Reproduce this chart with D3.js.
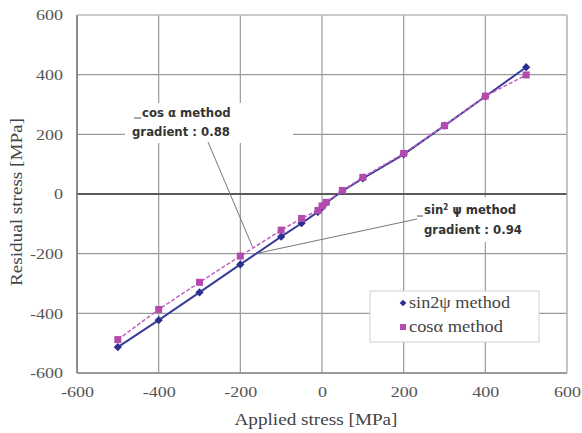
<!DOCTYPE html>
<html>
<head>
<meta charset="utf-8">
<script src="https://cdn.jsdelivr.net/npm/d3@7"></script>
<style>
  body { margin: 0; background: #fff; }
  svg { display: block; }
</style>
</head>
<body>
<svg id="viz" width="582" height="433"></svg>
<script>
window.onload = main;

// values
var appliedStress = [-500, -400, -300, -200, -100, -50, -10, 0, 10, 50, 100, 200, 300, 400, 500];
var sinPsiValues = [-513, -423, -330, -236, -143, -98, -60, -45, -30, 10, 52, 133, 229, 327, 425];
var cosAlphaValues = [-488, -387, -296, -208, -121, -82, -55, -40, -28, 12, 56, 136, 229, 328, 399];
var tickValues = [-600, -400, -200, 0, 200, 400, 600];
var seriesNames = ["sin2\u03c8 method", "cos\u03b1 method"];

var margins = {top: 15, right: 15, bottom: 60, left: 77};
var serif = "'Liberation Serif', 'Times New Roman', serif";
var narrow = "'Liberation Sans Narrow', 'DejaVu Sans Condensed', 'Liberation Sans', sans-serif";

// the original text is a bit wider than Times, so stretch it sideways
function stretch(sel, k){
  sel.each(function(){
    var w = this.getComputedTextLength();
    d3.select(this).attr("textLength", w * k).attr("lengthAdjust", "spacingAndGlyphs");
  });
}

function main(){
  var svg = d3.select("#viz"),
      width = +svg.attr("width"),
      height = +svg.attr("height");

  var xScale = d3.scaleLinear().domain([-600, 600]).range([margins.left, width - margins.right]);
  var yScale = d3.scaleLinear().domain([-600, 600]).range([height - margins.bottom, margins.top]);

  // gridlines
  var grid = svg.append("g");
  tickValues.forEach(function(t){
    grid.append("line")
      .attr("x1", xScale(t)).attr("x2", xScale(t))
      .attr("y1", yScale(600)).attr("y2", yScale(-600))
      .style("stroke", "#9a9a9a").style("stroke-width", "1.2px");
    grid.append("line")
      .attr("x1", xScale(-600)).attr("x2", xScale(600))
      .attr("y1", yScale(t)).attr("y2", yScale(t))
      .style("stroke", "#9a9a9a").style("stroke-width", "1.2px");
  });
  // zero line
  svg.append("line")
    .attr("x1", xScale(-600)).attr("x2", xScale(600))
    .attr("y1", yScale(0)).attr("y2", yScale(0))
    .style("stroke", "#5a5a5a").style("stroke-width", "2.2px");

  // axes (ticks only as labels)
  var xAxis = svg.append("g")
    .attr("transform", "translate(0," + (yScale(-600) + 5) + ")")
    .call(d3.axisBottom(xScale).tickValues(tickValues).tickSize(0).tickPadding(8).tickFormat(d3.format("d")));
  var yAxis = svg.append("g")
    .attr("transform", "translate(" + (xScale(-600) - 14) + ",0)")
    .call(d3.axisLeft(yScale).tickValues(tickValues).tickSize(0).tickPadding(0).tickFormat(d3.format("d")));
  [xAxis, yAxis].forEach(function(a){
    a.select(".domain").remove();
    a.selectAll("text")
      .style("font-family", serif).style("font-size", "15px").style("fill", "#555")
      .text(function(d){ return String(d); });
    stretch(a.selectAll("text"), 1.2);
  });

  // plot frame
  svg.append("line")
    .attr("x1", xScale(-600)).attr("x2", xScale(-600))
    .attr("y1", yScale(600)).attr("y2", yScale(-600))
    .style("stroke", "#7a7a7a").style("stroke-width", "1.5px");
  svg.append("line")
    .attr("x1", xScale(-600)).attr("x2", xScale(600))
    .attr("y1", yScale(-600)).attr("y2", yScale(-600))
    .style("stroke", "#8a8a8a").style("stroke-width", "1.5px");
  svg.append("line")
    .attr("x1", xScale(-600)).attr("x2", xScale(600))
    .attr("y1", yScale(600)).attr("y2", yScale(600))
    .style("stroke", "#c8c8c8").style("stroke-width", "1px");
  svg.append("line")
    .attr("x1", xScale(600)).attr("x2", xScale(600))
    .attr("y1", yScale(600)).attr("y2", yScale(-600))
    .style("stroke", "#c8c8c8").style("stroke-width", "1px");

  // axis titles
  svg.append("text")
    .attr("x", 316).attr("y", 425)
    .attr("text-anchor", "middle")
    .attr("textLength", 163).attr("lengthAdjust", "spacingAndGlyphs")
    .style("font-family", serif).style("font-size", "16px").style("fill", "#444")
    .text("Applied stress [MPa]");
  svg.append("text")
    .attr("transform", "translate(22,202) rotate(-90)")
    .attr("text-anchor", "middle")
    .attr("textLength", 168).attr("lengthAdjust", "spacingAndGlyphs")
    .style("font-family", serif).style("font-size", "16px").style("fill", "#444")
    .text("Residual stress [MPa]");

  // annotation boxes (cover gridlines)
  svg.append("rect").attr("x", 125).attr("y", 103).attr("width", 168).attr("height", 40).style("fill", "#fff");
  svg.append("rect").attr("x", 412).attr("y", 197).attr("width", 118).attr("height", 45).style("fill", "#fff");

  // leader lines
  svg.append("line")
    .attr("x1", 208).attr("y1", 142).attr("x2", 253).attr("y2", 248)
    .style("stroke", "#777").style("stroke-width", "1px");
  svg.append("line")
    .attr("x1", 417).attr("y1", 219).attr("x2", 254).attr("y2", 254)
    .style("stroke", "#777").style("stroke-width", "1px");
  svg.append("line")
    .attr("x1", 134).attr("y1", 118).attr("x2", 141).attr("y2", 118)
    .style("stroke", "#555").style("stroke-width", "1px");
  svg.append("line")
    .attr("x1", 417).attr("y1", 216).attr("x2", 423).attr("y2", 216)
    .style("stroke", "#555").style("stroke-width", "1px");

  var ann = svg.append("g")
    .style("font-family", narrow).style("font-weight", "bold").style("font-size", "13px").style("fill", "#333");
  ann.append("text").attr("x", 142).attr("y", 117).text("cos \u03b1 method");
  ann.append("text").attr("x", 132).attr("y", 136).text("gradient : 0.88");
  var s = ann.append("text").attr("x", 424).attr("y", 214);
  s.append("tspan").text("sin");
  s.append("tspan").attr("baseline-shift", "super").style("font-size", "8px").text("2");
  s.append("tspan").text(" \u03c8 method");
  ann.append("text").attr("x", 424).attr("y", 234).text("gradient : 0.94");

  // series
  var sinData = appliedStress.map(function(x, i){ return {x: x, y: sinPsiValues[i]}; });
  var cosData = appliedStress.map(function(x, i){ return {x: x, y: cosAlphaValues[i]}; });
  var line = d3.line()
    .x(function(d){ return xScale(d.x); })
    .y(function(d){ return yScale(d.y); });

  var blue = "#2b2f8f";
  var magenta = "#b44aae";

  svg.append("path").datum(sinData)
    .attr("d", line)
    .style("fill", "none").style("stroke", "#3a3d98").style("stroke-width", "2px");
  svg.append("path").datum(cosData)
    .attr("d", line)
    .style("fill", "none").style("stroke", "#c060c0").style("stroke-width", "1.5px")
    .style("stroke-dasharray", "4,2");

  // diamond = square turned 45 degrees
  var diamond = d3.symbol().type(d3.symbolSquare).size(34);
  svg.selectAll(".sinPt").data(sinData).enter().append("path")
    .attr("class", "sinPt")
    .attr("transform", function(d){ return "translate(" + xScale(d.x) + "," + yScale(d.y) + ") rotate(45)"; })
    .attr("d", diamond)
    .style("fill", blue);
  svg.selectAll(".cosPt").data(cosData).enter().append("rect")
    .attr("class", "cosPt")
    .attr("x", function(d){ return xScale(d.x) - 3.5; })
    .attr("y", function(d){ return yScale(d.y) - 3.5; })
    .attr("width", 7).attr("height", 7)
    .style("fill", magenta);

  // legend
  var legend = svg.append("g");
  legend.append("rect")
    .attr("x", 370).attr("y", 291).attr("width", 169).attr("height", 51)
    .style("fill", "#fff").style("stroke", "#cfcfcf").style("stroke-width", "1px");
  legend.append("path")
    .attr("transform", "translate(403,303) rotate(45)")
    .attr("d", d3.symbol().type(d3.symbolSquare).size(22))
    .style("fill", blue);
  legend.append("rect")
    .attr("x", 400).attr("y", 324).attr("width", 6).attr("height", 6)
    .style("fill", magenta);
  legend.selectAll(".legText").data(seriesNames).enter().append("text")
    .attr("class", "legText")
    .attr("x", 409)
    .attr("y", function(d, i){ return 308 + i * 24; })
    .attr("textLength", function(d, i){ return i === 0 ? 101 : 94; })
    .attr("lengthAdjust", "spacingAndGlyphs")
    .style("font-family", serif).style("font-size", "16px").style("fill", "#444")
    .text(function(d){ return d; });
}
</script>
</body>
</html>
